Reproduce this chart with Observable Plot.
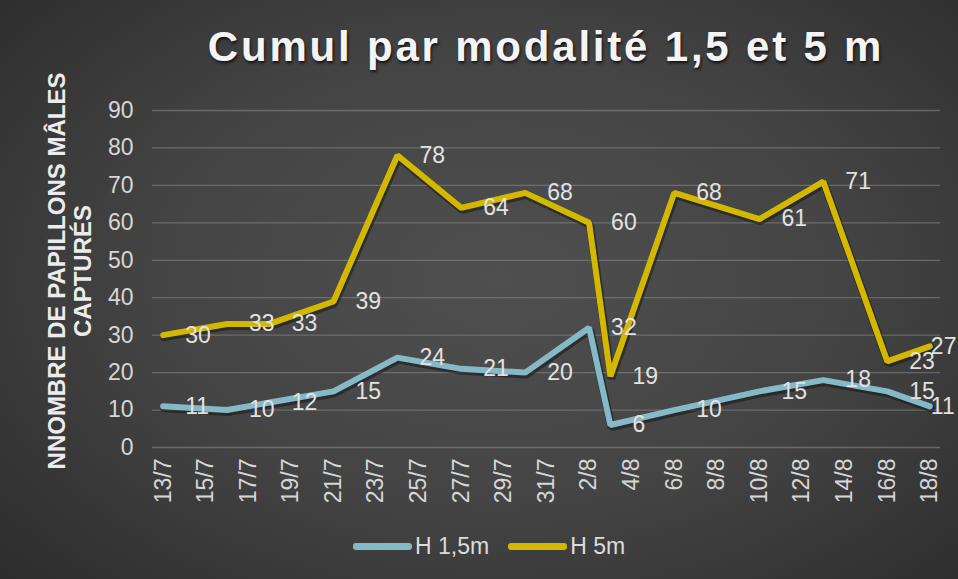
<!DOCTYPE html>
<html>
<head>
<meta charset="utf-8">
<script src="https://cdn.jsdelivr.net/npm/d3@7"></script>
<script src="https://cdn.jsdelivr.net/npm/@observablehq/plot@0.6"></script>
<style>
  html, body { margin: 0; padding: 0; }
  body {
    width: 958px; height: 579px; overflow: hidden;
    background: radial-gradient(ellipse 72% 78% at 52% 48%, #4f4f4f 0%, #444444 50%, #333333 85%, #2c2c2c 100%);
    font-family: "Liberation Sans", Arial, sans-serif;
  }
  #title {
    height: 88px; box-sizing: border-box; padding-top: 23px;
    margin-left: 152px; width: 788px; text-align: center;
    font-size: 42px; line-height: 48px; font-weight: bold; letter-spacing: 2.8px;
    color: #f4f4f4; text-shadow: 1px 2px 3px rgba(0,0,0,0.75);
    white-space: nowrap;
  }
  #chart svg { display: block; }
  #legend {
    height: 37px; display: flex; align-items: center; padding-left: 353px;
    font-size: 23px; color: #dcdcdc;
  }
  .sw { width: 59px; height: 7px; border-radius: 3px; margin-right: 3px; }
  .item { display: flex; align-items: center; margin-right: 19px; }
</style>
</head>
<body>
<div id="title">Cumul par modalité 1,5 et 5 m</div>
<div id="chart"></div>
<div id="legend"></div>
<script>
// Data
const dates = ["2019-07-13","2019-07-16","2019-07-18","2019-07-21","2019-07-24","2019-07-27","2019-07-30","2019-08-02","2019-08-03","2019-08-06","2019-08-10","2019-08-13","2019-08-16","2019-08-18"];
const h15 = [11,10,12,15,24,21,20,32,6,10,15,18,15,11];
const h5 = [30,33,33,39,78,64,68,60,19,68,61,71,23,27];
const seriesNames = ["H 1,5m", "H 5m"];
const seriesColors = ["#86b9c8", "#d4b800"];
const yTicks = [0,10,20,30,40,50,60,70,80,90];
const xTickDates = ["2019-07-13","2019-07-15","2019-07-17","2019-07-19","2019-07-21","2019-07-23","2019-07-25","2019-07-27","2019-07-29","2019-07-31","2019-08-02","2019-08-04","2019-08-06","2019-08-08","2019-08-10","2019-08-12","2019-08-14","2019-08-16","2019-08-18"];
const yLabel = "NNOMBRE DE PAPILLONS MÂLES\nCAPTURÉS";

const parse = s => new Date(s + "T00:00:00Z");
const rows = [];
dates.forEach((d, i) => {
  const last = i === dates.length - 1;
  rows.push({date: parse(d), v: h15[i], s: seriesNames[0], last});
  rows.push({date: parse(d), v: h5[i], s: seriesNames[1], last});
});
const xTicks = xTickDates.map(parse);
const fmt = d => `${d.getUTCDate()}/${d.getUTCMonth() + 1}`;
const labelStyle = {x: "date", y: "v", text: d => String(d.v), textAnchor: "start", fill: "#e2e2e2", fontSize: 23};

const chart = Plot.plot({
  width: 958,
  height: 440,
  marginLeft: 152,
  marginRight: 18,
  marginTop: 22,
  marginBottom: 81,
  style: {background: "transparent", color: "#d6d6d6", fontFamily: "'Liberation Sans', Arial, sans-serif", fontSize: "23px", overflow: "visible"},
  x: {type: "utc", domain: [new Date(Date.UTC(2019, 6, 12, 12)), new Date(Date.UTC(2019, 7, 18, 12))]},
  y: {domain: [0, 90]},
  color: {domain: seriesNames, range: seriesColors},
  marks: [
    Plot.gridY(yTicks, {stroke: "#8c8c8c", strokeOpacity: 0.55, strokeWidth: 1.3}),
    Plot.axisY(yTicks, {tickSize: 0, tickPadding: 19, fontSize: 23, label: null}),
    Plot.axisX(xTicks, {tickSize: 0, tickPadding: 11, tickRotate: -90, tickFormat: fmt, fontSize: 23, label: null}),
    Plot.line(rows, {x: "date", y: "v", z: "s", stroke: "#151515", strokeOpacity: 0.55, strokeWidth: 8, dx: 1, dy: 2, strokeLinejoin: "miter"}),
    Plot.line(rows, {x: "date", y: "v", z: "s", stroke: "s", strokeWidth: 6, strokeLinejoin: "miter"}),
    Plot.text(rows.filter(d => !d.last), {...labelStyle, dx: 22}),
    Plot.text(rows.filter(d => d.last), {...labelStyle, dx: 1}),
    Plot.text([yLabel], {frameAnchor: "left", rotate: -90, textAnchor: "middle", dx: -83, dy: -8, fontSize: 24, fontWeight: "bold", fill: "#ececec", lineHeight: 1.1})
  ]
});
document.getElementById("chart").appendChild(chart);

const legend = document.getElementById("legend");
seriesNames.forEach((n, i) => {
  const it = document.createElement("div");
  it.className = "item";
  const sw = document.createElement("div");
  sw.className = "sw";
  sw.style.background = seriesColors[i];
  const t = document.createElement("span");
  t.textContent = n;
  it.appendChild(sw); it.appendChild(t);
  legend.appendChild(it);
});
</script>
</body>
</html>
